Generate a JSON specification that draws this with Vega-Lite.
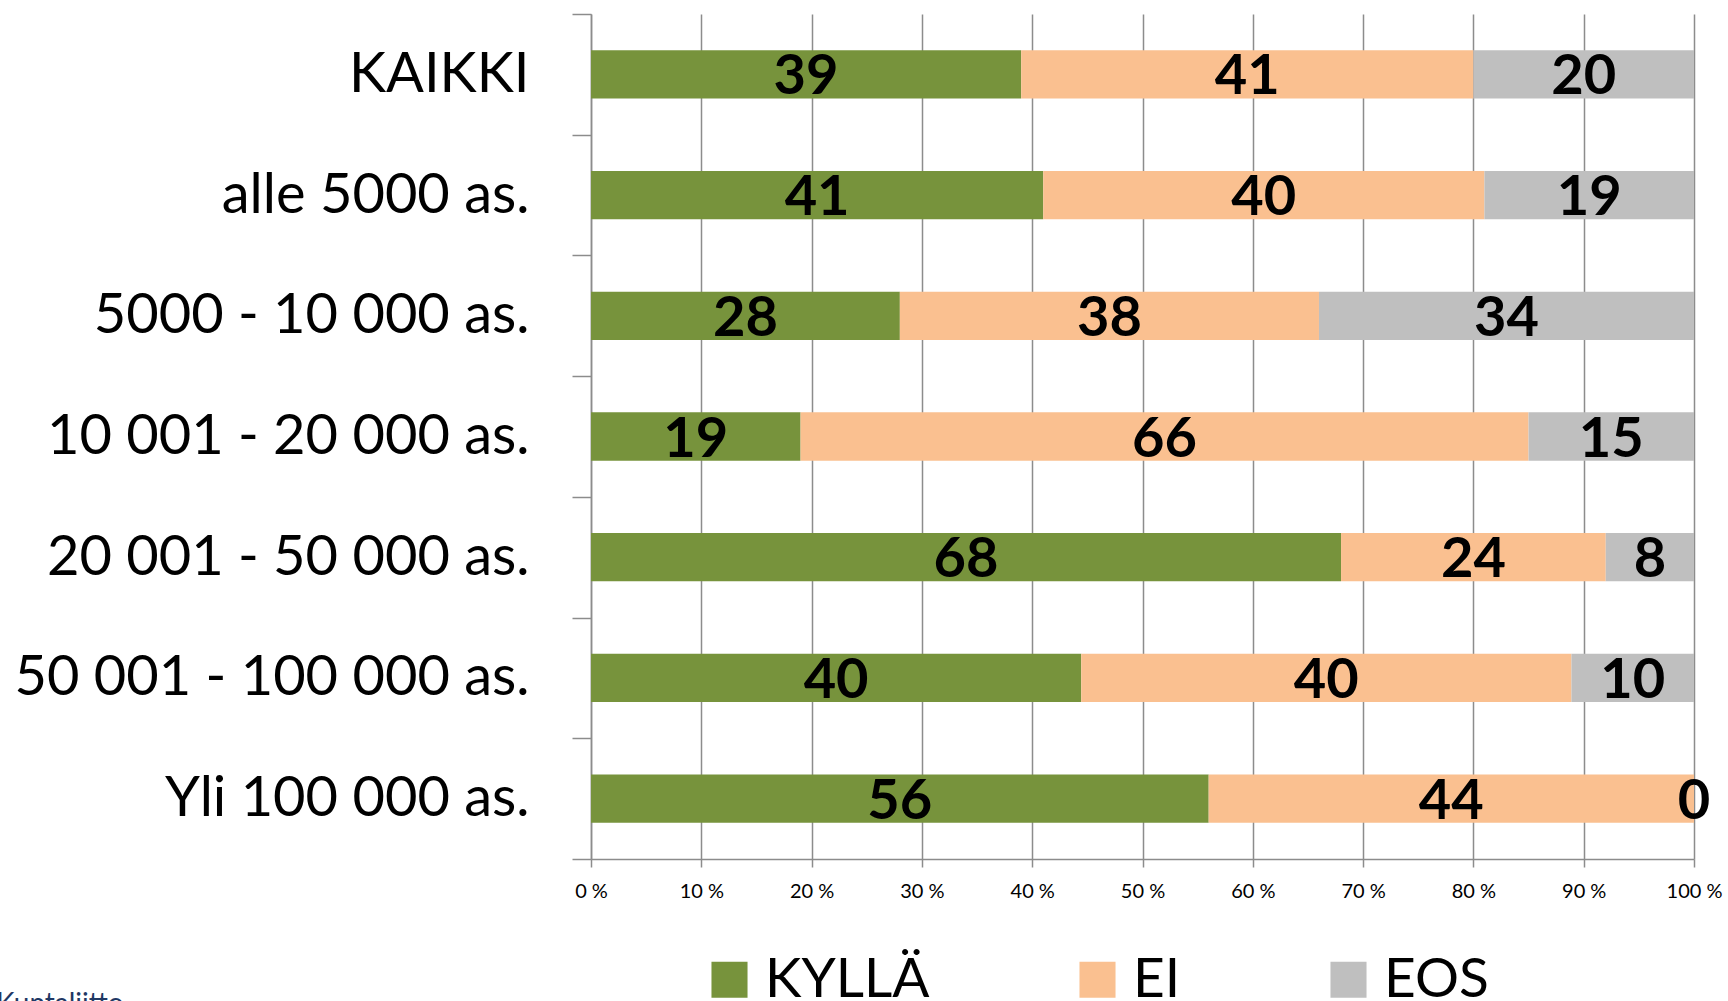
{
  "$schema": "https://vega.github.io/schema/vega-lite/v6.json",
  "autosize": {"type": "none"},
  "width": 1103,
  "height": 845,
  "padding": {"left": 591, "top": 14, "right": 34, "bottom": 142},
  "background": "white",
  "config": {"view": {"stroke": null}, "font": "Lato"},
  "title": {
    "text": "Kuntaliitto",
    "orient": "bottom",
    "anchor": "start",
    "frame": "bounds",
    "fontSize": 28,
    "fontWeight": "normal",
    "color": "#1F3864",
    "offset": -17,
    "dx": -18
  },
  "data": {
    "values": [
      {"g": "KAIKKI", "s": "KYLLÄ", "v": 39},
      {"g": "KAIKKI", "s": "EI", "v": 41},
      {"g": "KAIKKI", "s": "EOS", "v": 20},
      {"g": "alle 5000 as.", "s": "KYLLÄ", "v": 41},
      {"g": "alle 5000 as.", "s": "EI", "v": 40},
      {"g": "alle 5000 as.", "s": "EOS", "v": 19},
      {"g": "5000 - 10 000 as.", "s": "KYLLÄ", "v": 28},
      {"g": "5000 - 10 000 as.", "s": "EI", "v": 38},
      {"g": "5000 - 10 000 as.", "s": "EOS", "v": 34},
      {"g": "10 001 - 20 000 as.", "s": "KYLLÄ", "v": 19},
      {"g": "10 001 - 20 000 as.", "s": "EI", "v": 66},
      {"g": "10 001 - 20 000 as.", "s": "EOS", "v": 15},
      {"g": "20 001 - 50 000 as.", "s": "KYLLÄ", "v": 68},
      {"g": "20 001 - 50 000 as.", "s": "EI", "v": 24},
      {"g": "20 001 - 50 000 as.", "s": "EOS", "v": 8},
      {"g": "50 001 - 100 000 as.", "s": "KYLLÄ", "v": 40},
      {"g": "50 001 - 100 000 as.", "s": "EI", "v": 40},
      {"g": "50 001 - 100 000 as.", "s": "EOS", "v": 10},
      {"g": "Yli 100 000 as.", "s": "KYLLÄ", "v": 56},
      {"g": "Yli 100 000 as.", "s": "EI", "v": 44},
      {"g": "Yli 100 000 as.", "s": "EOS", "v": 0}
    ]
  },
  "transform": [
    {"calculate": "indexof(['KYLLÄ','EI','EOS'], datum.s)", "as": "o"},
    {"stack": "v", "groupby": ["g"], "sort": [{"field": "o", "order": "ascending"}], "offset": "normalize", "as": ["x0", "x1"]},
    {"calculate": "(datum.x0 + datum.x1) / 2", "as": "xm"}
  ],
  "encoding": {
    "y": {
      "field": "g",
      "type": "nominal",
      "sort": ["KAIKKI", "alle 5000 as.", "5000 - 10 000 as.", "10 001 - 20 000 as.", "20 001 - 50 000 as.", "50 001 - 100 000 as.", "Yli 100 000 as."],
      "scale": {"paddingInner": 0, "paddingOuter": 0},
      "axis": {
        "title": null,
        "grid": false,
        "tickBand": "extent",
        "tickSize": 19,
        "tickColor": "#8c8c8c",
        "tickWidth": 1.5,
        "domainColor": "#8c8c8c",
        "domainWidth": 1.5,
        "labelFontSize": 56,
        "labelColor": "black",
        "labelPadding": 43,
        "labelLimit": 0
      }
    }
  },
  "layer": [
    {
      "mark": {"type": "bar", "height": {"band": 0.4}},
      "encoding": {
        "x": {
          "field": "x0",
          "type": "quantitative",
          "scale": {"domain": [0, 1], "nice": false, "zero": true},
          "axis": {
            "title": null,
            "values": [0, 0.1, 0.2, 0.3, 0.4, 0.5, 0.6, 0.7, 0.8, 0.9, 1],
            "labelExpr": "format(datum.value * 100, 'd') + ' %'",
            "grid": true,
            "gridColor": "#8c8c8c",
            "gridWidth": 1.5,
            "gridOpacity": 1,
            "tickSize": 8,
            "tickColor": "#8c8c8c",
            "tickWidth": 1.5,
            "domainColor": "#8c8c8c",
            "domainWidth": 1.5,
            "labelFontSize": 20,
            "labelColor": "black",
            "labelPadding": 14,
            "labelFlush": false,
            "labelOverlap": false
          }
        },
        "x2": {"field": "x1"},
        "color": {
          "field": "s",
          "type": "nominal",
          "scale": {"domain": ["KYLLÄ", "EI", "EOS"], "range": ["#77933C", "#FAC090", "#BFBFBF"]},
          "legend": {
            "title": null,
            "orient": "none",
            "legendX": 111,
            "legendY": 938,
            "direction": "horizontal",
            "padding": 0,
            "symbolType": "square",
            "symbolSize": 1300,
            "symbolStrokeWidth": 0,
            "symbolOpacity": 1,
            "labelFontSize": 55,
            "labelColor": "black",
            "labelOffset": 8,
            "labelLimit": 0,
            "columnPadding": 140
          }
        }
      }
    },
    {
      "mark": {"type": "text", "fontSize": 56, "fontWeight": "bold", "color": "black", "baseline": "middle", "align": "center", "dy": 3},
      "encoding": {
        "x": {"field": "xm", "type": "quantitative"},
        "text": {"field": "v", "type": "quantitative"}
      }
    }
  ]
}
